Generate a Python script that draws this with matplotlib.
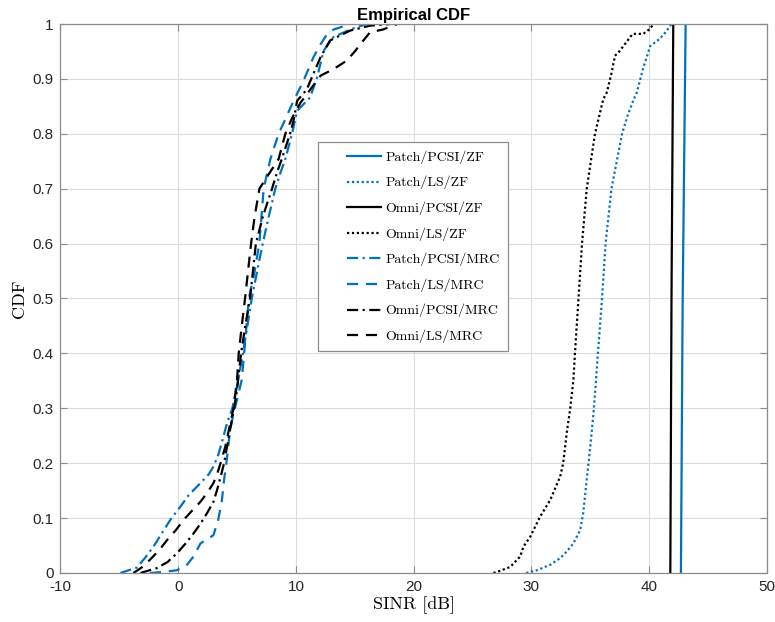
import matplotlib
matplotlib.use("Agg")
import numpy as np
import matplotlib.pyplot as plt
from matplotlib.lines import Line2D
from matplotlib.legend_handler import HandlerLine2D

# SINR samples (dB) and CDF levels for each antenna / CSI / combiner setup
patch_pcsi_zf_x = [42.7, 42.85, 43.1]
patch_pcsi_zf_y = [0.0, 0.5, 1.0]

patch_ls_zf_x = [29.56, 30.47, 31.6, 32.45, 33.0, 33.57, 34.14, 34.4, 34.7, 35.0, 35.27, 35.45, 35.65, 36.0, 36.3,
                 36.8, 37.25, 37.7, 38.2, 38.7, 38.95, 39.5, 40.1, 40.9, 41.4, 41.9]
patch_ls_zf_y = [0.0, 0.005, 0.015, 0.027, 0.039, 0.054, 0.078, 0.109, 0.17, 0.23, 0.29, 0.34, 0.40, 0.50, 0.60,
                 0.70, 0.75, 0.80, 0.835, 0.863, 0.875, 0.92, 0.96, 0.973, 0.985, 1.0]

omni_pcsi_zf_x = [41.8, 41.9, 42.05]
omni_pcsi_zf_y = [0.0, 0.5, 1.0]

omni_ls_zf_x = [26.78, 27.35, 28.2, 29.05, 29.33, 29.9, 30.75, 31.6, 32.45, 32.7, 33.0, 33.3, 33.57, 33.7, 34.0,
                34.3, 34.7, 35.4, 36.1, 36.4, 36.8, 37.1, 37.5, 38.0, 38.6, 39.5, 40.0, 40.4]
omni_ls_zf_y = [0.0, 0.004, 0.011, 0.03, 0.048, 0.066, 0.103, 0.133, 0.176, 0.20, 0.255, 0.30, 0.352, 0.40, 0.50,
                0.60, 0.70, 0.80, 0.863, 0.875, 0.91, 0.942, 0.951, 0.965, 0.982, 0.982, 0.99, 1.0]

patch_pcsi_mrc_x = [-4.9, -3.5, -2.8, -2.1, -1.4, -0.66, 0.19, 0.9, 1.9, 2.6, 3.0, 3.4, 3.8, 4.15, 4.6, 5.0, 5.5,
                    6.25, 6.8, 7.2, 7.7, 8.25, 8.7, 9.1, 9.67, 10.1, 10.7, 11.2, 11.8, 12.35, 13.1, 14.6, 16.0]
patch_pcsi_mrc_y = [0.0, 0.01, 0.028, 0.048, 0.072, 0.097, 0.121, 0.142, 0.164, 0.18, 0.194, 0.215, 0.245, 0.273,
                    0.30, 0.34, 0.40, 0.50, 0.56, 0.602, 0.65, 0.70, 0.73, 0.754, 0.80, 0.842, 0.855, 0.866, 0.903,
                    0.951, 0.975, 0.99, 1.0]

patch_ls_mrc_x = [-2.4, -1.2, -0.1, 0.75, 1.3, 1.9, 2.5, 3.0, 3.4, 3.7, 3.9, 4.15, 4.4, 4.7, 5.0, 5.4, 5.6, 5.8,
                  6.0, 6.5, 6.9, 7.26, 7.83, 8.53, 8.96, 9.8, 10.65, 11.5, 12.0, 12.6, 13.2, 13.8, 14.3]
patch_ls_mrc_y = [0.0, 0.002, 0.005, 0.015, 0.03, 0.054, 0.062, 0.069, 0.097, 0.13, 0.17, 0.21, 0.26, 0.29, 0.316,
                  0.352, 0.40, 0.45, 0.50, 0.55, 0.602, 0.70, 0.754, 0.80, 0.82, 0.86, 0.897, 0.94, 0.96, 0.98,
                  0.99, 0.994, 1.0]

omni_pcsi_mrc_x = [-3.2, -1.8, -0.9, -0.1, 0.6, 1.3, 1.9, 2.45, 3.0, 3.3, 3.6, 3.9, 4.4, 4.75, 5.0, 5.34, 5.7, 6.1,
                   6.6, 7.2, 7.97, 8.4, 8.8, 9.5, 9.8, 10.1, 10.9, 11.5, 12.1, 12.9, 14.6, 16.3, 18.0]
omni_pcsi_mrc_y = [0.0, 0.009, 0.02, 0.036, 0.053, 0.072, 0.09, 0.109, 0.13, 0.151, 0.175, 0.2, 0.26, 0.30, 0.334,
                   0.40, 0.45, 0.50, 0.60, 0.65, 0.70, 0.73, 0.754, 0.80, 0.824, 0.86, 0.88, 0.91, 0.94, 0.97,
                   0.988, 0.997, 1.0]

omni_ls_mrc_x = [-3.8, -3.1, -2.4, -1.6, -0.94, -0.2, 0.47, 1.2, 1.9, 2.5, 3.0, 3.3, 3.6, 4.0, 4.3, 4.7, 5.0, 5.14,
                 5.4, 5.7, 6.2, 6.5, 6.9, 7.5, 8.1, 8.53, 9.1, 9.7, 10.4, 11.2, 12.1, 13.2, 14.3, 15.0, 15.5, 16.3,
                 17.4, 18.6]
omni_ls_mrc_y = [0.0, 0.01, 0.024, 0.042, 0.06, 0.078, 0.097, 0.114, 0.13, 0.147, 0.164, 0.18, 0.2, 0.23, 0.26,
                 0.30, 0.352, 0.40, 0.45, 0.504, 0.602, 0.65, 0.70, 0.72, 0.74, 0.754, 0.80, 0.83, 0.857, 0.88,
                 0.906, 0.918, 0.933, 0.95, 0.964, 0.985, 0.99, 1.0]

labels = ["Patch/PCSI/ZF", "Patch/LS/ZF", "Omni/PCSI/ZF", "Omni/LS/ZF",
          "Patch/PCSI/MRC", "Patch/LS/MRC", "Omni/PCSI/MRC", "Omni/LS/MRC"]

x_ticks = [-10, 0, 10, 20, 30, 40, 50]
y_ticks = [0, 0.1, 0.2, 0.3, 0.4, 0.5, 0.6, 0.7, 0.8, 0.9, 1]

blue = "#0072BD"
black = "#000000"
frame_grey = "#8c8c8c"


class IndentedLine(HandlerLine2D):
    """Legend line drawn only over the right part of the handle box."""

    def create_artists(self, legend, orig_handle, xdescent, ydescent, width, height, fontsize, trans):
        artists = super().create_artists(legend, orig_handle, xdescent, ydescent, width, height, fontsize, trans)
        x0 = -xdescent + 0.37 * width
        x1 = -xdescent + width
        for a in artists:
            n = len(a.get_xdata())
            if n >= 2:
                a.set_xdata(np.linspace(x0, x1, n))
        return artists


plt.rcParams["axes.unicode_minus"] = False

fig = plt.figure(figsize=(7.75, 6.22), dpi=100)
ax = fig.add_axes([0.078, 0.0788, 0.9115, 0.8826])

lw = 1.6
dotted = (0, (1, 1.2))
dashdot = (0, (5, 2, 1, 2))
dashed = (0, (5, 3.5))
ax.plot(patch_pcsi_zf_x, patch_pcsi_zf_y, color=blue, lw=lw, ls="-", label=labels[0])
ax.plot(patch_ls_zf_x, patch_ls_zf_y, color=blue, lw=lw, ls=dotted, label=labels[1])
ax.plot(omni_pcsi_zf_x, omni_pcsi_zf_y, color=black, lw=lw, ls="-", label=labels[2])
ax.plot(omni_ls_zf_x, omni_ls_zf_y, color=black, lw=lw, ls=dotted, label=labels[3])
ax.plot(patch_pcsi_mrc_x, patch_pcsi_mrc_y, color=blue, lw=lw, ls=dashdot, label=labels[4])
ax.plot(patch_ls_mrc_x, patch_ls_mrc_y, color=blue, lw=lw, ls=dashed, label=labels[5])
ax.plot(omni_pcsi_mrc_x, omni_pcsi_mrc_y, color=black, lw=lw, ls=dashdot, label=labels[6])
ax.plot(omni_ls_mrc_x, omni_ls_mrc_y, color=black, lw=lw, ls=dashed, label=labels[7])

ax.set_xlim(-10, 50)
ax.set_ylim(0, 1)
ax.set_xticks(x_ticks)
ax.set_yticks(y_ticks)
ax.set_yticklabels([f"{t:g}" for t in y_ticks])
ax.grid(True, color="#dcdcdc", lw=0.8)
ax.set_axisbelow(True)

for side in ax.spines.values():
    side.set_color(frame_grey)
    side.set_linewidth(0.9)
ax.tick_params(direction="in", length=5, width=0.8, color=frame_grey, top=True, right=True,
               labelsize=11, labelcolor="#262626", pad=5)
for lab in ax.get_xticklabels() + ax.get_yticklabels():
    lab.set_fontfamily("Liberation Sans")

ax.set_title("Empirical CDF", fontsize=12, fontweight="bold", fontfamily="Liberation Sans", pad=3)
ax.set_xlabel("SINR [dB]", fontsize=13, fontfamily="cmr10", labelpad=2)
ax.set_ylabel("CDF", fontsize=13, fontfamily="cmr10", labelpad=4)

leg = ax.legend(loc="upper left", bbox_to_anchor=(0.3645, 0.785), borderaxespad=0,
                prop={"family": "cmr10", "size": 10}, handler_map={Line2D: IndentedLine()},
                handlelength=3.97, handletextpad=0.3, labelspacing=0.87, borderpad=0.6,
                fancybox=False, framealpha=1, edgecolor=frame_grey)
leg.get_frame().set_linewidth(0.9)

fig.savefig("out.png", dpi=100)
